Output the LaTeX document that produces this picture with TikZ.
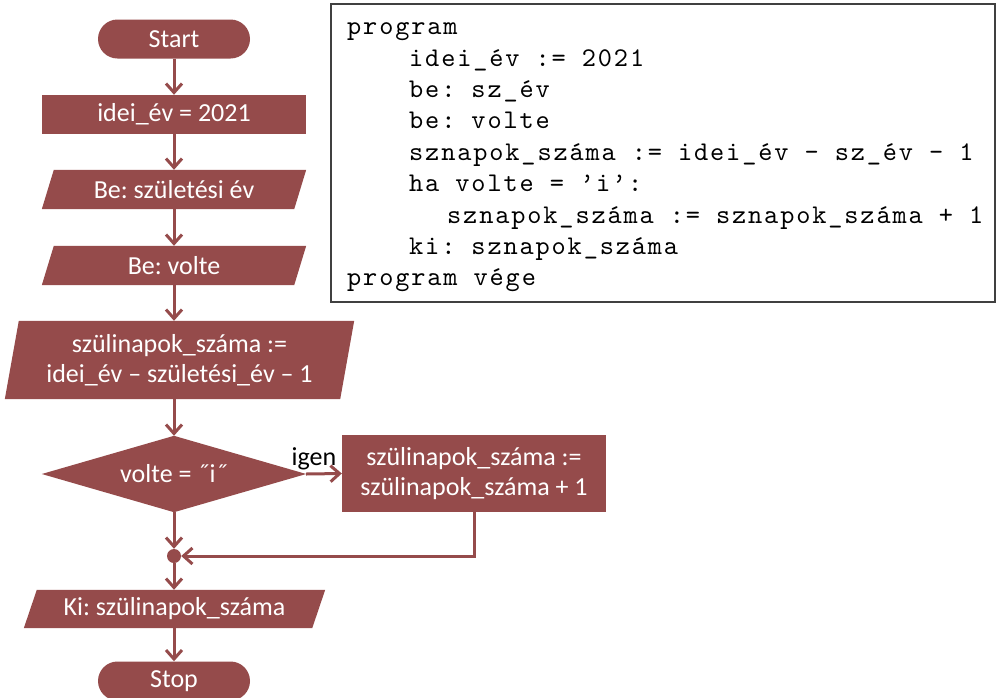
\documentclass[tikz,border=0pt]{standalone}
\usepackage{fontspec}
\setmainfont{Carlito}
\newfontfamily\codefont{lmmono10-regular}[Extension=.otf, LetterSpace=6.9]
\usetikzlibrary{arrows.meta,backgrounds}
\definecolor{fc}{RGB}{149,75,75}
\definecolor{boxline}{RGB}{64,64,64}
\frenchspacing

% fill a slanted input/output box behind a named node (node, skew)
\newcommand\iofill[2]{\fill[fc] ([xshift=#2pt]#1.north west) -- (#1.north east)
  -- ([xshift=-#2pt]#1.south east) -- (#1.south west) -- cycle;}

\begin{document}
\begin{tikzpicture}[x=1pt,y=-1pt,
  every node/.style={font=\fontsize{26}{30}\selectfont, text=white, align=center, inner sep=0pt},
  term/.style={fill=fc, rounded corners=19.5pt, minimum width=152pt, minimum height=39pt},
  proc/.style={fill=fc, minimum width=264pt, minimum height=#1},
  iobox/.style 2 args={minimum width=#1, minimum height=#2},
  arr/.style={draw=fc, line width=3pt, -{Straight Barb[length=9pt,width=16pt,line width=3pt]}},
  codeline/.style={anchor=base west, text=black,
    font=\codefont\fontsize{27}{31}\selectfont}
]
\useasboundingbox (0,0) rectangle (997,697);

% flowchart
\node[term] (start) at (174,39) {Start};
\node[proc=39pt] (idei) at (174,114.5) {idei\_év = 2021};
\node[iobox={264pt}{39pt}] (be1) at (174,189.5) {Be: születési év};
\node[iobox={264pt}{39pt}] (be2) at (174,265.5) {Be: volte};
\node[iobox={349pt}{78pt}] (szul) at (179.5,360) {szülinapok\_száma :=\\idei\_év – születési\_év – 1};
\node[minimum width=264pt, minimum height=76pt] (dia) at (174,474) {volte = ˝i˝};
\node[proc=77pt] (inc) at (474,473.5) {szülinapok\_száma :=\\szülinapok\_száma + 1};
\node[circle, fill=fc, minimum size=14pt] (dot) at (174,556) {};
\node[iobox={301pt}{38pt}] (ki) at (174.5,609) {Ki: szülinapok\_száma};
\node[term] (stop) at (174,681) {Stop};
\node[text=black, anchor=base] (igen) at (314,465) {igen};

\begin{scope}[on background layer]
  \iofill{be1}{12}
  \iofill{be2}{12}
  \iofill{szul}{14}
  \iofill{ki}{13}
  \fill[fc] (dia.north) -- (dia.east) -- (dia.south) -- (dia.west) -- cycle;
\end{scope}

\draw[arr] (start) -- (idei);
\draw[arr] (idei) -- (be1);
\draw[arr] (be1) -- (be2);
\draw[arr] (be2.south) -- (be2.south |- szul.north);
\draw[arr] (szul.south -| dia.north) -- (dia.north);
\draw[arr] (dia.east) -- (inc.west);
\draw[arr] (dia.south) -- (dot.north);
\draw[arr] (inc.south) |- (dot.east);
\draw[arr] (dot.south) -- (ki.north -| dot.south);
\draw[arr] (ki.south -| stop.north) -- (stop.north);

% pseudocode listing
\draw[boxline, line width=2pt] (331,4) rectangle (995,302);
\node[codeline] (c1) at (347,34) {program};
\node[codeline] (c2) at (409,66) {idei\_év := 2021};
\node[codeline] (c3) at (409,97) {be: sz\_év};
\node[codeline] (c4) at (409,128) {be: volte};
\node[codeline] (c5) at (409,160) {sznapok\_száma := idei\_év – sz\_év – 1};
\node[codeline] (c6) at (409,191) {ha volte = ’i’:};
\node[codeline] (c7) at (447,223) {sznapok\_száma := sznapok\_száma + 1};
\node[codeline] (c8) at (409,254) {ki: sznapok\_száma};
\node[codeline] (c9) at (347,285) {program vége};
\end{tikzpicture}
\end{document}
